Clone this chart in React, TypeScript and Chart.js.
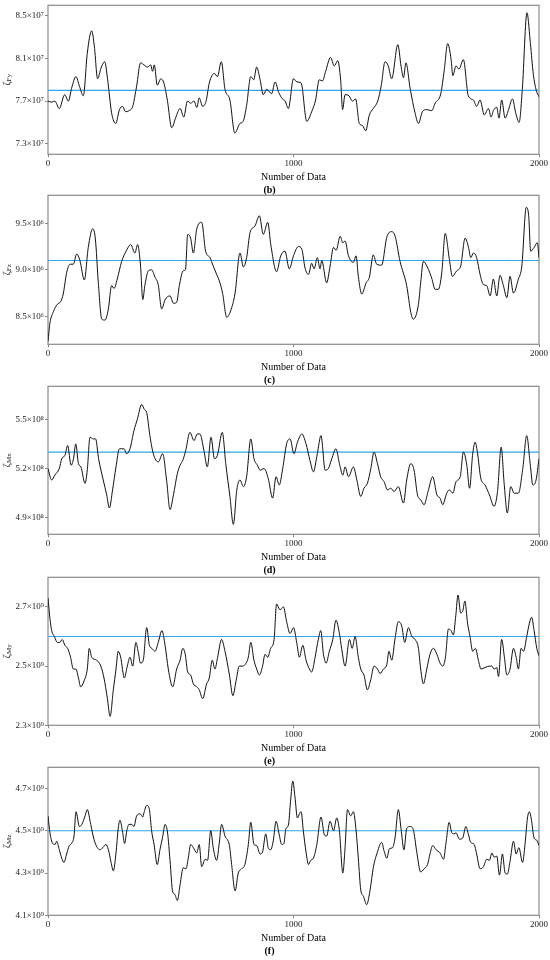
import React, { useEffect, useRef } from 'react';
import { Chart, registerables } from 'chart.js';

Chart.register(...registerables);

const FONT = "'Liberation Serif', 'Times New Roman', 'DejaVu Serif', serif";

const xTicks = [0, 1000, 2000];

// (b) ζFy  (×10^7)
const fyIdx = [0, 15, 28, 46, 68, 83, 96, 114, 128, 144, 160, 178, 189, 202, 216, 231, 243, 259, 276, 291, 304, 316, 330, 345, 361, 377, 391, 405, 418, 426, 433, 445, 460, 472, 486, 504, 521, 538, 553, 568, 581, 595, 606, 616, 630, 644, 657, 678, 690, 706, 721, 741, 761, 782, 795, 809, 826, 838, 850, 864, 877, 891, 911, 925, 940, 955, 966, 979, 1000, 1014, 1031, 1054, 1074, 1090, 1105, 1118, 1131, 1151, 1166, 1180, 1192, 1200, 1210, 1226, 1240, 1253, 1268, 1281, 1294, 1309, 1325, 1343, 1357, 1373, 1386, 1400, 1425, 1438, 1448, 1458, 1475, 1495, 1509, 1525, 1543, 1563, 1577, 1600, 1614, 1628, 1642, 1649, 1662, 1674, 1692, 1712, 1733, 1746, 1760, 1777, 1794, 1805, 1814, 1828, 1837, 1848, 1862, 1876, 1892, 1905, 1919, 1932, 1951, 1965, 1977, 1989, 2000];
const fyVal = [7.70, 7.69, 7.70, 7.63, 7.76, 7.70, 7.82, 7.93, 7.84, 7.75, 8.15, 8.36, 8.21, 7.91, 8.01, 8.07, 7.90, 7.59, 7.49, 7.62, 7.65, 7.60, 7.61, 7.65, 7.84, 8.06, 8.04, 8.02, 8.04, 7.98, 8.04, 7.85, 7.91, 7.87, 7.71, 7.45, 7.55, 7.63, 7.55, 7.70, 7.68, 7.70, 7.64, 7.73, 7.65, 7.70, 7.87, 7.96, 7.93, 8.07, 7.81, 7.71, 7.40, 7.49, 7.51, 7.66, 7.93, 7.90, 8.02, 7.90, 7.76, 7.81, 7.77, 7.88, 7.78, 7.72, 7.70, 7.63, 7.91, 7.88, 7.87, 7.51, 7.60, 7.71, 7.90, 7.89, 7.98, 8.11, 8.03, 8.08, 7.90, 7.62, 7.76, 7.75, 7.70, 7.72, 7.49, 7.47, 7.42, 7.57, 7.63, 7.70, 7.84, 8.07, 8.03, 7.91, 8.23, 8.03, 7.92, 8.06, 7.82, 7.59, 7.49, 7.60, 7.62, 7.61, 7.68, 7.77, 7.99, 8.24, 8.09, 7.94, 8.03, 8.00, 8.09, 7.75, 7.71, 7.65, 7.71, 7.57, 7.63, 7.55, 7.61, 7.64, 7.54, 7.71, 7.54, 7.62, 7.72, 7.59, 7.50, 7.81, 8.53, 8.24, 7.95, 7.80, 7.74];
const fyMean = 7.8;
const fyTicks = [7.3, 7.7, 8.1, 8.5];

// (c) ζFz  (×10^6)
const fzIdx = [0, 8, 22, 38, 52, 62, 76, 90, 103, 117, 130, 148, 164, 182, 193, 205, 219, 232, 246, 259, 269, 282, 300, 318, 337, 354, 365, 377, 386, 395, 409, 422, 436, 449, 463, 477, 497, 511, 524, 535, 551, 560, 569, 581, 592, 606, 626, 642, 660, 673, 687, 698, 711, 728, 744, 762, 782, 796, 809, 823, 843, 861, 877, 895, 908, 931, 948, 965, 983, 1000, 1020, 1034, 1047, 1061, 1074, 1084, 1097, 1108, 1115, 1135, 1149, 1163, 1174, 1190, 1201, 1210, 1224, 1244, 1255, 1264, 1278, 1296, 1309, 1325, 1339, 1359, 1380, 1400, 1414, 1434, 1461, 1478, 1488, 1509, 1518, 1529, 1545, 1563, 1577, 1590, 1604, 1618, 1635, 1647, 1665, 1681, 1699, 1713, 1722, 1733, 1746, 1760, 1774, 1787, 1801, 1814, 1828, 1841, 1855, 1869, 1882, 1896, 1916, 1930, 1948, 1958, 1966, 1980, 1993, 2000];
const fzVal = [8.23, 8.43, 8.55, 8.63, 8.66, 8.74, 8.97, 9.06, 9.06, 9.17, 9.10, 8.89, 9.24, 9.44, 9.33, 8.86, 8.47, 8.46, 8.58, 8.83, 8.80, 8.90, 9.09, 9.20, 9.27, 9.18, 9.27, 9.04, 8.68, 8.84, 8.99, 9.00, 8.92, 8.84, 8.58, 8.68, 8.72, 8.64, 8.65, 8.83, 8.99, 9.00, 9.38, 9.34, 9.18, 9.44, 9.51, 9.20, 9.13, 9.04, 8.95, 8.88, 8.75, 8.49, 8.56, 8.75, 9.18, 9.03, 9.13, 9.40, 9.47, 9.58, 9.38, 9.51, 9.26, 8.98, 9.15, 9.20, 9.01, 9.15, 9.25, 9.22, 9.02, 8.95, 9.07, 9.01, 9.13, 9.01, 9.10, 8.86, 9.04, 9.24, 9.21, 9.36, 9.29, 9.31, 9.15, 9.08, 9.15, 8.93, 8.74, 8.86, 8.92, 9.16, 9.06, 9.05, 9.35, 9.41, 9.36, 9.09, 8.83, 8.54, 8.47, 8.63, 8.86, 9.09, 9.03, 8.91, 8.79, 8.79, 8.97, 9.39, 9.11, 8.93, 8.99, 9.04, 9.34, 9.24, 9.13, 9.18, 9.13, 8.95, 8.84, 8.83, 8.72, 8.90, 8.72, 8.94, 8.83, 8.70, 8.93, 8.75, 8.90, 9.04, 9.67, 9.58, 9.20, 9.24, 9.29, 9.13];
const fzMean = 9.1;
const fzTicks = [8.5, 9.0, 9.5];

// (d) ζMx  (×10^8)
const mxIdx = [0, 15, 28, 46, 56, 69, 80, 94, 104, 113, 124, 134, 151, 160, 171, 185, 194, 206, 225, 239, 250, 263, 277, 291, 300, 310, 320, 334, 350, 364, 382, 392, 402, 415, 429, 449, 467, 483, 497, 511, 527, 538, 549, 561, 578, 595, 608, 619, 635, 649, 664, 678, 690, 710, 724, 741, 755, 769, 782, 796, 809, 826, 839, 853, 864, 880, 897, 915, 929, 942, 956, 972, 986, 1002, 1016, 1034, 1051, 1067, 1081, 1097, 1112, 1129, 1142, 1156, 1173, 1187, 1201, 1210, 1224, 1244, 1258, 1274, 1287, 1301, 1315, 1328, 1342, 1355, 1369, 1383, 1396, 1410, 1427, 1448, 1461, 1478, 1491, 1505, 1518, 1532, 1548, 1567, 1584, 1597, 1608, 1624, 1635, 1649, 1662, 1679, 1692, 1706, 1717, 1730, 1740, 1749, 1763, 1780, 1798, 1817, 1831, 1846, 1858, 1871, 1885, 1899, 1916, 1934, 1950, 1964, 1975, 1988, 2000];
const mxVal = [5.20, 5.13, 5.16, 5.20, 5.26, 5.28, 5.34, 5.22, 5.26, 5.35, 5.23, 5.21, 5.11, 5.19, 5.39, 5.38, 5.38, 5.26, 5.13, 5.04, 4.96, 5.07, 5.21, 5.32, 5.32, 5.32, 5.29, 5.32, 5.43, 5.50, 5.59, 5.56, 5.54, 5.40, 5.29, 5.24, 5.29, 5.13, 4.95, 5.04, 5.17, 5.22, 5.25, 5.31, 5.42, 5.37, 5.41, 5.41, 5.31, 5.21, 5.39, 5.26, 5.28, 5.42, 5.23, 5.03, 4.86, 5.07, 5.13, 5.09, 5.15, 5.38, 5.26, 5.22, 5.19, 5.20, 5.14, 5.02, 5.15, 5.10, 5.20, 5.35, 5.38, 5.29, 5.36, 5.41, 5.35, 5.25, 5.18, 5.29, 5.40, 5.19, 5.20, 5.26, 5.32, 5.23, 5.16, 5.21, 5.15, 5.21, 5.13, 5.03, 5.08, 5.11, 5.20, 5.30, 5.23, 5.15, 5.12, 5.07, 5.08, 5.06, 5.09, 4.99, 5.13, 5.23, 5.19, 5.04, 5.01, 4.98, 5.06, 5.15, 5.04, 5.02, 4.98, 5.05, 5.07, 5.05, 5.12, 5.15, 5.30, 5.22, 5.08, 5.29, 5.36, 5.30, 5.14, 5.10, 5.04, 4.97, 5.06, 5.33, 5.11, 4.93, 5.09, 5.05, 5.05, 5.20, 5.40, 5.23, 5.10, 5.13, 5.26];
const mxMean = 5.3;
const mxTicks = [4.9, 5.2, 5.5];

// (e) ζMy  (×10^9)
const myIdx = [0, 8, 15, 26, 38, 48, 58, 69, 80, 92, 103, 114, 124, 133, 147, 160, 168, 178, 198, 215, 228, 242, 253, 266, 277, 286, 296, 311, 323, 334, 345, 358, 367, 377, 388, 402, 413, 423, 436, 449, 464, 477, 490, 508, 524, 538, 549, 559, 569, 581, 592, 606, 616, 630, 646, 657, 669, 680, 691, 707, 721, 739, 753, 766, 779, 793, 807, 816, 826, 839, 850, 861, 874, 884, 895, 907, 921, 931, 945, 959, 972, 986, 1000, 1013, 1024, 1038, 1051, 1065, 1074, 1088, 1101, 1111, 1122, 1133, 1146, 1160, 1173, 1187, 1196, 1210, 1228, 1239, 1251, 1264, 1274, 1287, 1301, 1315, 1328, 1342, 1353, 1366, 1380, 1389, 1400, 1414, 1427, 1441, 1453, 1468, 1482, 1495, 1509, 1518, 1529, 1543, 1556, 1570, 1584, 1597, 1608, 1619, 1631, 1642, 1651, 1661, 1670, 1681, 1689, 1698, 1709, 1719, 1730, 1741, 1753, 1764, 1780, 1798, 1808, 1817, 1828, 1835, 1848, 1859, 1869, 1882, 1896, 1907, 1916, 1927, 1937, 1950, 1961, 1970, 1980, 1991, 2000];
const myVal = [2.73, 2.66, 2.62, 2.60, 2.58, 2.58, 2.59, 2.57, 2.56, 2.53, 2.49, 2.49, 2.46, 2.43, 2.45, 2.49, 2.56, 2.53, 2.52, 2.50, 2.46, 2.39, 2.33, 2.42, 2.49, 2.55, 2.53, 2.46, 2.50, 2.53, 2.50, 2.58, 2.55, 2.51, 2.52, 2.63, 2.57, 2.56, 2.55, 2.58, 2.62, 2.57, 2.49, 2.43, 2.49, 2.52, 2.56, 2.54, 2.48, 2.47, 2.44, 2.43, 2.42, 2.39, 2.44, 2.46, 2.52, 2.49, 2.53, 2.59, 2.55, 2.47, 2.40, 2.45, 2.50, 2.50, 2.51, 2.53, 2.58, 2.52, 2.49, 2.47, 2.50, 2.54, 2.53, 2.56, 2.59, 2.71, 2.69, 2.70, 2.65, 2.61, 2.63, 2.58, 2.53, 2.57, 2.52, 2.49, 2.48, 2.53, 2.59, 2.62, 2.54, 2.51, 2.55, 2.59, 2.655, 2.61, 2.56, 2.50, 2.59, 2.56, 2.60, 2.53, 2.49, 2.47, 2.42, 2.455, 2.50, 2.49, 2.475, 2.49, 2.505, 2.55, 2.52, 2.595, 2.65, 2.635, 2.58, 2.63, 2.60, 2.59, 2.56, 2.49, 2.44, 2.49, 2.54, 2.56, 2.54, 2.51, 2.50, 2.53, 2.625, 2.62, 2.605, 2.67, 2.74, 2.68, 2.685, 2.72, 2.645, 2.60, 2.55, 2.56, 2.52, 2.49, 2.495, 2.50, 2.50, 2.49, 2.495, 2.465, 2.59, 2.53, 2.47, 2.49, 2.56, 2.53, 2.49, 2.56, 2.55, 2.60, 2.645, 2.665, 2.62, 2.56, 2.535];
const myMean = 2.6;
const myTicks = [2.3, 2.5, 2.7];

// (f) ζMz  (×10^9)
const mzIdx = [0, 8, 19, 29, 35, 46, 56, 65, 76, 87, 96, 106, 114, 128, 138, 151, 160, 174, 187, 201, 212, 223, 236, 246, 257, 266, 277, 286, 293, 303, 312, 321, 330, 341, 350, 361, 375, 386, 391, 402, 413, 422, 432, 445, 456, 466, 477, 487, 497, 508, 516, 527, 538, 551, 562, 572, 581, 592, 606, 616, 626, 640, 650, 663, 673, 687, 697, 707, 721, 739, 748, 762, 775, 789, 802, 816, 826, 839, 850, 864, 874, 887, 897, 907, 918, 929, 942, 952, 961, 969, 979, 988, 997, 1006, 1016, 1024, 1031, 1040, 1051, 1061, 1070, 1081, 1095, 1112, 1126, 1135, 1149, 1163, 1176, 1187, 1201, 1210, 1220, 1233, 1244, 1255, 1264, 1274, 1285, 1298, 1312, 1325, 1342, 1359, 1370, 1380, 1391, 1404, 1414, 1427, 1438, 1450, 1461, 1475, 1488, 1502, 1518, 1532, 1546, 1556, 1567, 1581, 1597, 1611, 1622, 1634, 1645, 1654, 1662, 1676, 1689, 1702, 1713, 1722, 1736, 1746, 1760, 1774, 1787, 1798, 1808, 1817, 1828, 1839, 1851, 1862, 1871, 1882, 1896, 1907, 1918, 1933, 1943, 1953, 1961, 1970, 1980, 1991, 2000];
const mzVal = [4.57, 4.49, 4.44, 4.435, 4.45, 4.41, 4.37, 4.35, 4.39, 4.43, 4.44, 4.475, 4.59, 4.52, 4.53, 4.57, 4.60, 4.53, 4.46, 4.42, 4.41, 4.42, 4.435, 4.41, 4.35, 4.31, 4.395, 4.51, 4.55, 4.50, 4.44, 4.50, 4.53, 4.53, 4.52, 4.57, 4.58, 4.565, 4.585, 4.62, 4.60, 4.50, 4.435, 4.34, 4.41, 4.465, 4.53, 4.49, 4.36, 4.21, 4.20, 4.17, 4.245, 4.325, 4.32, 4.375, 4.435, 4.42, 4.395, 4.435, 4.33, 4.365, 4.36, 4.50, 4.42, 4.36, 4.435, 4.53, 4.475, 4.43, 4.34, 4.215, 4.30, 4.32, 4.34, 4.435, 4.54, 4.435, 4.43, 4.39, 4.40, 4.485, 4.42, 4.41, 4.455, 4.545, 4.48, 4.435, 4.44, 4.51, 4.525, 4.64, 4.735, 4.66, 4.56, 4.58, 4.59, 4.50, 4.40, 4.34, 4.36, 4.37, 4.435, 4.565, 4.48, 4.475, 4.545, 4.50, 4.56, 4.50, 4.30, 4.42, 4.60, 4.57, 4.59, 4.50, 4.37, 4.22, 4.19, 4.15, 4.22, 4.325, 4.40, 4.445, 4.40, 4.37, 4.415, 4.42, 4.47, 4.60, 4.51, 4.41, 4.51, 4.52, 4.505, 4.40, 4.305, 4.32, 4.34, 4.39, 4.43, 4.41, 4.395, 4.365, 4.45, 4.54, 4.49, 4.485, 4.49, 4.46, 4.465, 4.52, 4.48, 4.445, 4.435, 4.39, 4.32, 4.33, 4.365, 4.36, 4.395, 4.375, 4.38, 4.29, 4.39, 4.30, 4.295, 4.355, 4.45, 4.39, 4.42, 4.35, 4.435, 4.56, 4.59, 4.545, 4.465, 4.455, 4.43];
const mzMean = 4.5;
const mzTicks = [4.1, 4.3, 4.5, 4.7];

type Panel = {
  idx: number[];
  val: number[];
  mean: number;
  ticks: number[];
  min: number;
  max: number;
  sup: string;
  sub: string;
  caption: string;
};

const panels: Panel[] = [
  { idx: fyIdx, val: fyVal, mean: fyMean, ticks: fyTicks, min: 7.2, max: 8.6, sup: '⁷', sub: 'Fy', caption: '(b)' },
  { idx: fzIdx, val: fzVal, mean: fzMean, ticks: fzTicks, min: 8.2, max: 9.8, sup: '⁶', sub: 'Fz', caption: '(c)' },
  { idx: mxIdx, val: mxVal, mean: mxMean, ticks: mxTicks, min: 4.8, max: 5.7, sup: '⁸', sub: 'Mx', caption: '(d)' },
  { idx: myIdx, val: myVal, mean: myMean, ticks: myTicks, min: 2.3, max: 2.8, sup: '⁹', sub: 'My', caption: '(e)' },
  { idx: mzIdx, val: mzVal, mean: mzMean, ticks: mzTicks, min: 4.1, max: 4.8, sup: '⁹', sub: 'Mz', caption: '(f)' },
];

const panelTops = [0, 190.4, 381.4, 572, 762.4];
const areaHeights = [149, 148.6, 148.3, 148.4, 148];

const PAD_TOP = 5.3;
const X_AXIS_H = 29.2;
const CAPTION_H = 12.5;

const framePlugin = {
  id: 'frame',
  beforeDatasetsDraw(chart: any) {
    const { ctx, chartArea: a } = chart;
    ctx.save();
    ctx.strokeStyle = '#8a8a8a';
    ctx.lineWidth = 1.2;
    ctx.strokeRect(a.left, a.top, a.right - a.left, a.bottom - a.top);
    ctx.restore();
  },
};

function yLabelPlugin(sub: string) {
  return {
    id: 'ylabel',
    afterDraw(chart: any) {
      const { ctx, chartArea: a } = chart;
      const f1 = `10px ${FONT}`;
      const f2 = `7px ${FONT}`;
      ctx.save();
      ctx.translate(7, (a.top + a.bottom) / 2);
      ctx.rotate(-Math.PI / 2);
      ctx.fillStyle = '#222';
      ctx.textBaseline = 'middle';
      ctx.textAlign = 'left';
      ctx.font = f1;
      const w1 = ctx.measureText('ζ').width;
      ctx.font = f2;
      const w2 = ctx.measureText(sub).width;
      const x0 = -(w1 + w2) / 2;
      ctx.font = f1;
      ctx.fillText('ζ', x0, 0);
      ctx.font = f2;
      ctx.fillText(sub, x0 + w1, 2.5);
      ctx.restore();
    },
  };
}

function PanelChart({ p, top, areaH }: { p: Panel; top: number; areaH: number }) {
  const ref = useRef<HTMLCanvasElement>(null);
  const H = Math.round(PAD_TOP + areaH + X_AXIS_H + CAPTION_H);

  useEffect(() => {
    const canvas = ref.current;
    if (!canvas) return;
    const chart = new Chart(canvas, {
      type: 'line',
      data: {
        datasets: [
          {
            data: p.idx.map((x, i) => ({ x, y: p.val[i] })),
            borderColor: '#111111',
            borderWidth: 1,
            pointRadius: 0,
            cubicInterpolationMode: 'monotone',
            order: 1,
          },
          {
            data: [
              { x: 0, y: p.mean },
              { x: 2000, y: p.mean },
            ],
            borderColor: '#2AA7EE',
            borderWidth: 1.2,
            pointRadius: 0,
            order: 2,
          },
        ],
      },
      options: {
        animation: false,
        responsive: false,
        layout: { padding: { top: PAD_TOP, left: 0, right: 11, bottom: 0 } },
        plugins: {
          legend: { display: false },
          tooltip: { enabled: false },
          title: {
            display: true,
            text: p.caption,
            position: 'bottom',
            font: { family: FONT, size: 10, weight: 'bold' },
            color: '#000',
            padding: { top: 0.5, bottom: 0 },
          },
        },
        scales: {
          x: {
            type: 'linear',
            min: 0,
            max: 2000,
            afterBuildTicks: (s: any) => {
              s.ticks = xTicks.map((v) => ({ value: v }));
            },
            afterFit: (s: any) => {
              s.height = X_AXIS_H;
              s.paddingLeft = 0;
              s.paddingRight = 0;
            },
            ticks: {
              font: { family: FONT, size: 9 },
              color: '#222',
              padding: 1,
              maxRotation: 0,
              callback: (v: any) => String(v),
            },
            grid: { display: true, drawOnChartArea: false, tickLength: 3, color: '#888' },
            border: { display: false },
            title: {
              display: true,
              text: 'Number of Data',
              font: { family: FONT, size: 10 },
              color: '#000',
              padding: 0,
            },
          },
          y: {
            type: 'linear',
            min: p.min,
            max: p.max,
            afterBuildTicks: (s: any) => {
              s.ticks = p.ticks.map((v) => ({ value: v }));
            },
            afterFit: (s: any) => {
              s.width = 48;
              s.paddingTop = 0;
              s.paddingBottom = 0;
            },
            ticks: {
              font: { family: FONT, size: 9 },
              color: '#222',
              padding: 1,
              callback: (v: any) => `${Number(v).toFixed(1)}×10${p.sup}`,
            },
            grid: { display: true, drawOnChartArea: false, tickLength: 3, color: '#888' },
            border: { display: false },
          },
        },
      } as any,
      plugins: [framePlugin, yLabelPlugin(p.sub)],
    });
    return () => chart.destroy();
  }, [p, H]);

  return (
    <div style={{ position: 'absolute', left: 0, top, width: 550, height: H }}>
      <canvas ref={ref} width={550} height={H} style={{ display: 'block', width: 550, height: H }} />
    </div>
  );
}

export default function App() {
  return (
    <div
      style={{
        position: 'absolute',
        left: 0,
        top: 0,
        width: 550,
        height: 960,
        background: '#ffffff',
        overflow: 'hidden',
      }}
    >
      {panels.map((p, i) => (
        <PanelChart key={p.caption} p={p} top={panelTops[i]} areaH={areaHeights[i]} />
      ))}
    </div>
  );
}
